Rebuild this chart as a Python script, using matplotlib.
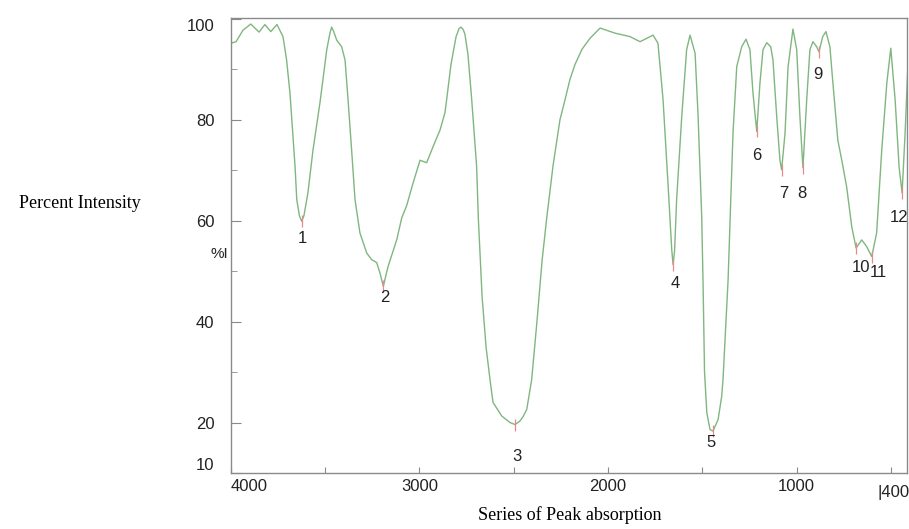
import matplotlib.pyplot as plt

# spectrum (wavenumber, percent intensity)
wavenumbers = [4000, 3973, 3936, 3895, 3851, 3820, 3789, 3756, 3724, 3705,
               3687, 3660, 3651, 3637, 3625, 3613, 3598, 3592, 3565, 3528,
               3492, 3475, 3466, 3455, 3439, 3413, 3395, 3379, 3360, 3342,
               3316, 3280, 3254, 3227, 3210, 3192, 3167, 3121, 3094, 3068,
               3034, 2997, 2962, 2928, 2891, 2865, 2856, 2833, 2806, 2790,
               2780, 2768, 2759, 2743, 2723, 2697, 2688, 2668, 2647, 2626,
               2610, 2564, 2540, 2520, 2493, 2467, 2450, 2431, 2414, 2405,
               2377, 2350, 2325, 2292, 2255, 2228, 2202, 2175, 2138, 2095,
               2042, 1963, 1883, 1830, 1761, 1735, 1708, 1682, 1662, 1655,
               1647, 1636, 1609, 1583, 1565, 1538, 1522, 1503, 1496, 1488,
               1476, 1459, 1443, 1416, 1397, 1390, 1374, 1363, 1337, 1317,
               1291, 1268, 1247, 1231, 1211, 1194, 1178, 1158, 1137, 1125,
               1105, 1088, 1079, 1061, 1045, 1019, 999, 982, 966, 946,
               929, 913, 893, 881, 861, 844, 823, 807, 781, 760,
               734, 707, 684, 654, 628, 601, 575, 548, 521, 500,
               477, 456, 440, 424, 408]
intensity = [95.2, 95.5, 97.8, 99.0, 97.4, 98.9, 97.5, 98.9, 96.5, 91.9,
             85.3, 70.7, 64.2, 61.0, 59.9, 61.0, 64.2, 65.5, 74.0, 83.4,
             93.9, 97.2, 98.4, 97.5, 95.8, 94.5, 91.9, 84.0, 74.0, 64.2,
             57.6, 53.6, 52.3, 51.7, 49.7, 47.0, 50.9, 56.2, 60.6, 63.0,
             67.5, 72.0, 71.5, 74.7, 78.0, 81.4, 84.0, 91.0, 96.5, 98.1,
             98.4, 97.9, 97.0, 93.0, 84.0, 70.8, 60.6, 45.0, 35.0, 28.5,
             24.0, 21.3, 20.6, 20.0, 19.6, 20.3, 21.2, 22.6, 26.5, 28.5,
             40.0, 52.0, 60.6, 70.8, 80.0, 84.0, 88.0, 91.0, 94.0, 96.2,
             98.2, 97.2, 96.5, 95.5, 96.8, 95.2, 84.0, 67.5, 54.3, 51.3,
             54.0, 64.2, 80.6, 93.9, 96.8, 93.2, 80.6, 60.8, 48.0, 30.0,
             22.0, 18.6, 18.3, 20.6, 25.2, 28.5, 40.0, 48.3, 77.4, 90.6,
             94.5, 96.0, 93.9, 85.3, 77.7, 87.3, 93.9, 95.3, 94.5, 91.9,
             80.6, 72.0, 70.1, 77.4, 90.5, 98.0, 93.9, 80.6, 70.5, 84.0,
             93.9, 95.5, 94.5, 93.5, 96.5, 97.5, 94.5, 87.3, 76.0, 72.0,
             66.7, 58.8, 54.6, 56.2, 54.9, 52.9, 57.6, 74.0, 87.3, 94.2,
             84.0, 70.7, 65.5, 77.4, 91.9]

# marked peaks
peak_numbers = ['1', '2', '3', '4', '5', '6', '7', '8', '9', '10', '11', '12']
peak_wavenumbers = [3625, 3192, 2493, 1655, 1443, 1211, 1079, 966, 881, 684, 601, 440]
peak_intensity = [59.9, 47.0, 19.6, 51.3, 18.3, 77.7, 70.1, 70.5, 93.5, 54.6, 52.9, 65.5]

y_ticks = [10, 20, 40, 60, 80, 100]
y_minor_ticks = [30, 50, 70, 90]
x_ticks = [4000, 3500, 3000, 2500, 2000, 1500, 1000, 500]
x_tick_labels = ['4000', '', '3000', '', '2000', '', '1000', '']

# label offsets under each peak, in pixels (dx, dy)
LABEL_OFFSETS = [(1, -17), (2, -11), (2, -32), (2, -19), (-2, -11), (0, -24),
                 (2, -24), (-1, -26), (-1, -23), (5, -19), (7, -16), (-3, -24)]

LINE_COLOR = '#80b680'
MARK_COLOR = '#e88a8a'
FRAME_COLOR = '#8a8a8a'
TEXT_COLOR = '#222222'
TICK_FONT = 'Liberation Sans'
TITLE_FONT = 'Liberation Serif'


def draw_spectrum(ax):
    ax.plot(wavenumbers, intensity, color=LINE_COLOR, linewidth=1.0)
    ax.plot(peak_wavenumbers, peak_intensity, linestyle='none', marker='|',
            markersize=8, markeredgewidth=0.9, color=MARK_COLOR)
    for n in range(len(peak_numbers)):
        dx, dy = LABEL_OFFSETS[n]
        ax.annotate(peak_numbers[n], (peak_wavenumbers[n], peak_intensity[n]),
                    xytext=(dx * 0.72, dy * 0.72), textcoords='offset points',
                    ha='center', va='center', fontsize=12, family=TICK_FONT,
                    color=TEXT_COLOR)


def style_axes(ax):
    ax.set_xlim(4000, 414)
    ax.set_ylim(10, 100.2)
    for s in ax.spines.values():
        s.set_color(FRAME_COLOR)
        s.set_linewidth(1.0)
    ax.set_yticks(y_ticks)
    ax.set_yticklabels([str(v) for v in y_ticks], family=TICK_FONT, fontsize=12)
    ax.set_yticks(y_minor_ticks, minor=True)
    ax.set_xticks(x_ticks)
    ax.set_xticklabels(x_tick_labels, family=TICK_FONT, fontsize=12)
    ax.tick_params(axis='y', which='major', direction='in', length=7,
                   color=FRAME_COLOR, pad=12, labelcolor=TEXT_COLOR)
    ax.tick_params(axis='y', which='minor', direction='in', length=4.5,
                   color=FRAME_COLOR)
    ax.tick_params(axis='x', which='major', direction='in', length=4,
                   color=FRAME_COLOR, pad=4, labelcolor=TEXT_COLOR)
    ylabels = ax.get_yticklabels()
    ylabels[0].set_verticalalignment('bottom')
    ylabels[-1].set_verticalalignment('top')
    ax.get_xticklabels()[0].set_horizontalalignment('left')
    ax.text(570, -0.026, '|400', transform=ax.get_xaxis_transform(),
            ha='left', va='top', fontsize=12, family=TICK_FONT, color=TEXT_COLOR)


def main():
    fig = plt.figure(figsize=(9.09, 5.29), dpi=100)
    ax = fig.add_axes([0.2541, 0.1059, 0.7437, 0.8601])
    draw_spectrum(ax)
    style_axes(ax)
    fig.text(80 / 909, 1 - 203 / 529, 'Percent Intensity', ha='center', va='center',
             fontsize=13, family=TITLE_FONT)
    fig.text(570 / 909, 1 - 515 / 529, 'Series of Peak absorption', ha='center',
             va='center', fontsize=13, family=TITLE_FONT)
    fig.text(219 / 909, 1 - 254 / 529, '%I', ha='center', va='center',
             fontsize=11, family=TICK_FONT, color=TEXT_COLOR)
    fig.savefig('out.png', dpi=100)


if __name__ == "__main__":
    main()
